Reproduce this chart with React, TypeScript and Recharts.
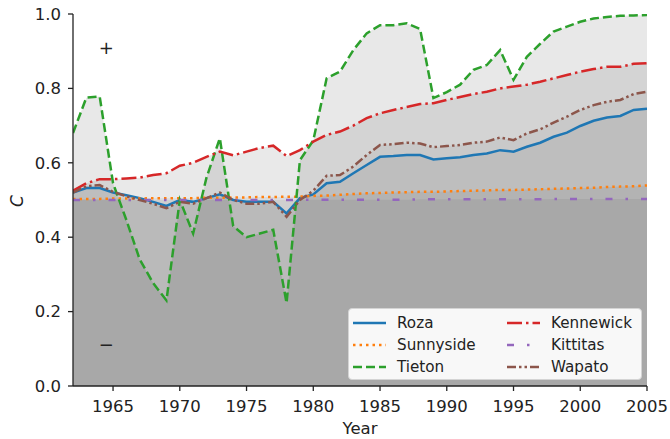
import {
  ComposedChart,
  Area,
  Line,
  XAxis,
  YAxis,
  Legend,
  ReferenceDot,
} from "recharts";

const years = [
  1962, 1963, 1964, 1965, 1966, 1967, 1968, 1969, 1970, 1971, 1972, 1973,
  1974, 1975, 1976, 1977, 1978, 1979, 1980, 1981, 1982, 1983, 1984, 1985,
  1986, 1987, 1988, 1989, 1990, 1991, 1992, 1993, 1994, 1995, 1996, 1997,
  1998, 1999, 2000, 2001, 2002, 2003, 2004, 2005,
];

const roza = [
  0.52, 0.532, 0.532, 0.52, 0.513, 0.505, 0.495, 0.484, 0.5, 0.495, 0.505,
  0.515, 0.5, 0.495, 0.495, 0.495, 0.464, 0.505, 0.515, 0.545, 0.549, 0.572,
  0.594, 0.616, 0.618, 0.621, 0.621, 0.609, 0.612, 0.615, 0.621, 0.625, 0.634,
  0.63, 0.643, 0.654, 0.67, 0.681, 0.699, 0.713, 0.722, 0.726, 0.742, 0.745,
];

const sunnyside = [
  0.503, 0.503, 0.503, 0.504, 0.504, 0.504, 0.505, 0.505, 0.505, 0.505, 0.506,
  0.506, 0.507, 0.507, 0.508, 0.508, 0.509, 0.509, 0.511, 0.512, 0.514, 0.516,
  0.518, 0.519, 0.52, 0.521, 0.522, 0.522, 0.523, 0.524, 0.525, 0.526, 0.527,
  0.527, 0.528, 0.529, 0.53, 0.531, 0.532, 0.533, 0.535, 0.536, 0.537, 0.539,
];

const tieton = [
  0.68, 0.775, 0.778, 0.545, 0.446, 0.34, 0.277, 0.23, 0.5, 0.41, 0.56, 0.666,
  0.43, 0.4, 0.41, 0.42, 0.223, 0.607, 0.66, 0.827, 0.845, 0.903, 0.948, 0.97,
  0.97, 0.975, 0.96, 0.774, 0.79, 0.81, 0.85, 0.863, 0.903, 0.823, 0.885, 0.92,
  0.953, 0.966, 0.979, 0.988, 0.992, 0.995, 0.996, 0.997,
];

const kennewick = [
  0.525, 0.545, 0.556, 0.556, 0.558, 0.56, 0.567, 0.572, 0.592, 0.6, 0.616,
  0.63, 0.62, 0.63, 0.64, 0.646, 0.618, 0.634, 0.657, 0.675, 0.684, 0.7, 0.72,
  0.733, 0.742, 0.75, 0.758, 0.76, 0.769, 0.777, 0.785, 0.791, 0.8, 0.805,
  0.81, 0.818, 0.827, 0.836, 0.845, 0.852, 0.858, 0.858, 0.866, 0.868,
];

const kittitas = [
  0.5, 0.5, 0.5, 0.5, 0.5, 0.5, 0.5, 0.5, 0.5, 0.5, 0.5, 0.5, 0.5, 0.5, 0.5,
  0.5, 0.5, 0.5, 0.501, 0.501, 0.501, 0.501, 0.501, 0.501, 0.501, 0.501, 0.502,
  0.502, 0.502, 0.502, 0.502, 0.502, 0.502, 0.502, 0.502, 0.502, 0.503, 0.503,
  0.503, 0.503, 0.503, 0.503, 0.503, 0.503,
];

const wapato = [
  0.52, 0.537, 0.54, 0.522, 0.51, 0.5, 0.49, 0.478, 0.495, 0.49, 0.505, 0.52,
  0.5, 0.49, 0.49, 0.495, 0.455, 0.5, 0.525, 0.565, 0.567, 0.59, 0.621, 0.648,
  0.65, 0.654, 0.652, 0.642, 0.645, 0.648, 0.654, 0.657, 0.668, 0.661, 0.679,
  0.69, 0.708, 0.724, 0.742, 0.755, 0.764, 0.769, 0.785, 0.791,
];

const xTicks = [1965, 1970, 1975, 1980, 1985, 1990, 1995, 2000, 2005];
const yTicks = [0, 0.2, 0.4, 0.6, 0.8, 1.0];

const SERIES = [
  { name: "Roza", values: roza, color: "#1f77b4", dash: undefined, shade: 0.05 },
  { name: "Sunnyside", values: sunnyside, color: "#ff7f0e", dash: "2.5 4", shade: 0.055 },
  { name: "Tieton", values: tieton, color: "#2ca02c", dash: "9 4", shade: 0.09 },
  { name: "Kennewick", values: kennewick, color: "#d62728", dash: "15 4 2.5 4", shade: 0.085 },
  { name: "Kittitas", values: kittitas, color: "#9467bd", dash: "7 13 2.5 13", shade: 0.055 },
  { name: "Wapato", values: wapato, color: "#8c564b", dash: "9 3 2.5 3 2.5 3", shade: 0.05 },
];

const data = years.map((year, i) => {
  const row: Record<string, number> = { year };
  SERIES.forEach((s) => {
    row[s.name] = s.values[i];
  });
  return row;
});

const FONT = "'DejaVu Sans', sans-serif";
const INK = "#222";
const TICK_FONT = 16.5;

const LegendBox = () => (
  <div
    style={{
      position: "relative",
      width: 294,
      height: 72,
      background: "rgba(255,255,255,0.92)",
      border: "1px solid #d4d4d4",
      borderRadius: 4,
      boxSizing: "border-box",
      fontFamily: FONT,
      fontSize: 15.2,
      color: INK,
    }}
  >
    {SERIES.map((s, i) => {
      const col = Math.floor(i / 3);
      const row = i % 3;
      const left = col === 0 ? 4 : 158;
      const top = 13.5 + row * 22;
      return (
        <div key={s.name}>
          <svg
            width={33}
            height={6}
            style={{ position: "absolute", left, top: top - 3 }}
          >
            <line
              x1={0}
              x2={33}
              y1={3}
              y2={3}
              stroke={s.color}
              strokeWidth={2.5}
              strokeDasharray={s.dash}
            />
          </svg>
          <span
            style={{
              position: "absolute",
              left: left + 44,
              top: top - 10,
              lineHeight: "20px",
              whiteSpace: "nowrap",
            }}
          >
            {s.name}
          </span>
        </div>
      );
    })}
  </div>
);

export default function App() {
  return (
    <div style={{ position: "absolute", left: 0, top: 0, fontFamily: FONT }}>
      <ComposedChart
        width={670}
        height={439}
        data={data}
        margin={{ top: 14, right: 23, bottom: 0, left: 0 }}
      >
        <XAxis
          dataKey="year"
          type="number"
          domain={[1962, 2005]}
          ticks={xTicks}
          allowDataOverflow
          height={53}
          tickSize={5}
          tickMargin={9}
          stroke={INK}
          strokeWidth={1.3}
          tick={{ fill: INK, fontSize: TICK_FONT }}
          label={{
            content: ({ viewBox }: any) => (
              <text
                x={viewBox.x + viewBox.width / 2}
                y={viewBox.y + 48}
                textAnchor="middle"
                fill={INK}
                fontSize={TICK_FONT}
              >
                Year
              </text>
            ),
          }}
        />
        <XAxis
          xAxisId="top"
          dataKey="year"
          type="number"
          orientation="top"
          domain={[1962, 2005]}
          height={0}
          tick={false}
          tickLine={false}
          stroke={INK}
          strokeWidth={1.3}
        />
        <YAxis
          type="number"
          domain={[0, 1]}
          ticks={yTicks}
          allowDataOverflow
          width={73}
          tickSize={5}
          tickMargin={7}
          stroke={INK}
          strokeWidth={1.3}
          tickFormatter={(v: number) => v.toFixed(1)}
          tick={{ fill: INK, fontSize: TICK_FONT }}
          label={{
            content: ({ viewBox }: any) => (
              <text
                transform={`translate(23, ${viewBox.y + viewBox.height / 2 + 1}) rotate(-90)`}
                textAnchor="middle"
                fill={INK}
                fontSize={17}
                fontStyle="italic"
              >
                C
              </text>
            ),
          }}
        />
        <YAxis
          yAxisId="right"
          orientation="right"
          domain={[0, 1]}
          width={0}
          tick={false}
          tickLine={false}
          stroke={INK}
          strokeWidth={1.3}
        />
        {SERIES.map((s) => (
          <Area
            key={`area-${s.name}`}
            dataKey={s.name}
            type="linear"
            stroke="none"
            fill="#000"
            fillOpacity={s.shade}
            baseValue={0}
            legendType="none"
            activeDot={false}
            isAnimationActive={false}
          />
        ))}
        {SERIES.map((s) => (
          <Line
            key={`line-${s.name}`}
            dataKey={s.name}
            type="linear"
            stroke={s.color}
            strokeWidth={2.5}
            strokeDasharray={s.dash}
            dot={false}
            activeDot={false}
            isAnimationActive={false}
          />
        ))}
        <ReferenceDot
          x={1964.5}
          y={0.91}
          r={1}
          fill="none"
          stroke="none"
          label={{ value: "+", position: "center", fill: INK, fontSize: 18 }}
        />
        <ReferenceDot
          x={1964.5}
          y={0.11}
          r={1}
          fill="none"
          stroke="none"
          label={{ value: "\u2212", position: "center", fill: INK, fontSize: 18 }}
        />
        <Legend
          layout="horizontal"
          verticalAlign="middle"
          align="center"
          content={() => <LegendBox />}
          wrapperStyle={{ position: "absolute", left: 348, top: 308, width: 294, height: 72 }}
        />
      </ComposedChart>
    </div>
  );
}
